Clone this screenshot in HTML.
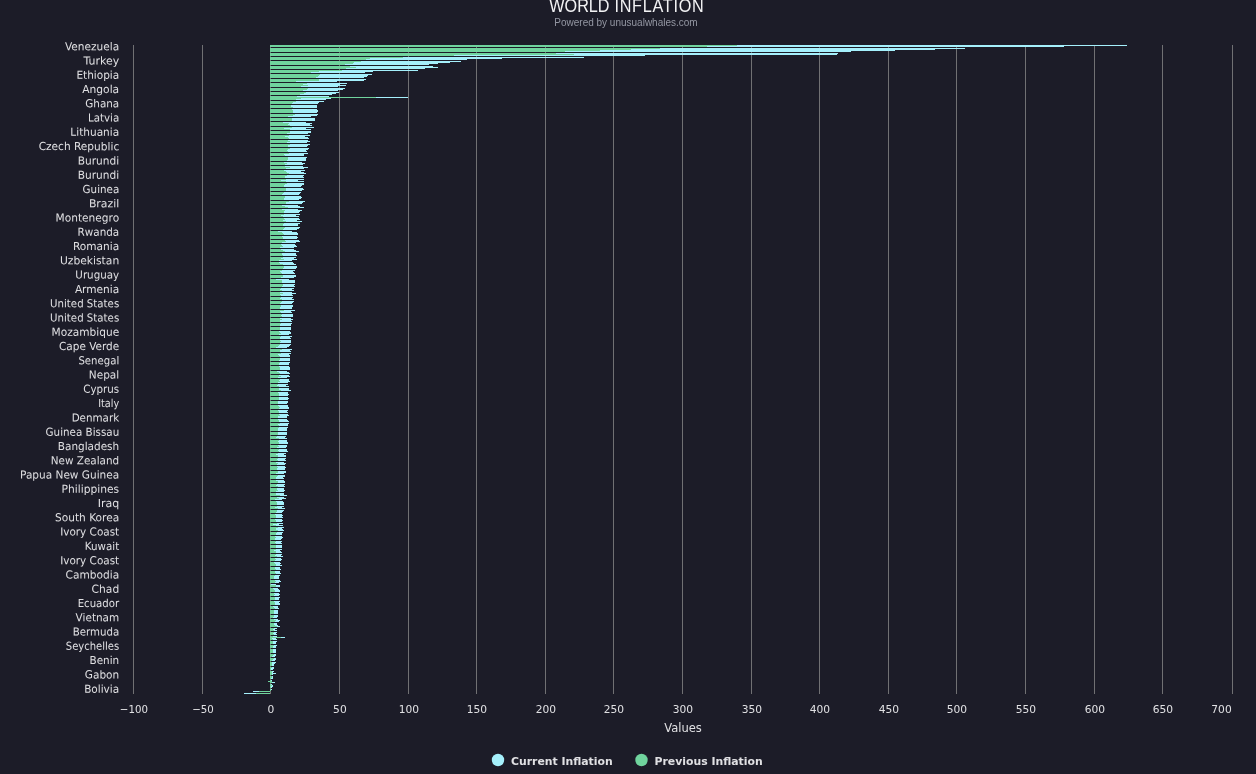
<!DOCTYPE html>
<html><head><meta charset="utf-8"><title>World Inflation</title>
<style>
html,body{margin:0;padding:0;background:#1c1c28;overflow:hidden}
svg{display:block;will-change:transform}
.lab text{font-family:"DejaVu Sans","Liberation Sans",sans-serif;font-size:11px;fill:#e0e0e3}
.ttl{font-family:"Liberation Sans",sans-serif;font-size:18px;fill:#f2f2f4}
.sub{font-family:"Liberation Sans",sans-serif;font-size:10px;fill:#9497a3}
.leg{font-family:"DejaVu Sans","Liberation Sans",sans-serif;font-size:11px;font-weight:bold;fill:#e0e0e3}
.axt{font-family:"DejaVu Sans","Liberation Sans",sans-serif;font-size:11.5px;fill:#e0e0e3}
</style></head><body>
<svg width="1256" height="774" viewBox="0 0 1256 774">
<rect width="1256" height="774" fill="#1c1c28"/>
<text class="ttl" transform="translate(549.3,12) scale(0.9,1)">WORLD <tspan dx="0.45" letter-spacing="0.82">INFLATION</tspan></text>
<text class="sub" x="626" y="25.5" text-anchor="middle">Powered by unusualwhales.com</text>
<g><path d="M133.5 45V694" stroke="#707073" stroke-width="1"/>
<path d="M202.5 45V694" stroke="#707073" stroke-width="1"/>
<path d="M270.5 45V694" stroke="#707073" stroke-width="1"/>
<path d="M339.5 45V694" stroke="#707073" stroke-width="1"/>
<path d="M408.5 45V694" stroke="#707073" stroke-width="1"/>
<path d="M476.5 45V694" stroke="#707073" stroke-width="1"/>
<path d="M545.5 45V694" stroke="#707073" stroke-width="1"/>
<path d="M613.5 45V694" stroke="#707073" stroke-width="1"/>
<path d="M682.5 45V694" stroke="#707073" stroke-width="1"/>
<path d="M751.5 45V694" stroke="#707073" stroke-width="1"/>
<path d="M819.5 45V694" stroke="#707073" stroke-width="1"/>
<path d="M888.5 45V694" stroke="#707073" stroke-width="1"/>
<path d="M956.5 45V694" stroke="#707073" stroke-width="1"/>
<path d="M1025.5 45V694" stroke="#707073" stroke-width="1"/>
<path d="M1094.5 45V694" stroke="#707073" stroke-width="1"/>
<path d="M1162.5 45V694" stroke="#707073" stroke-width="1"/>
<path d="M1232.5 45V694" stroke="#707073" stroke-width="1"/></g>
<g shape-rendering="crispEdges">
<rect x="270.0" y="45" width="857.0" height="1" fill="#a5f0fc"/>
<rect x="270.0" y="45" width="467.0" height="1" fill="#70d49e"/>
<rect x="270.0" y="46" width="794.0" height="1" fill="#a5f0fc"/>
<rect x="270.0" y="46" width="437.0" height="1" fill="#70d49e"/>
<rect x="270.0" y="48" width="695.0" height="1" fill="#a5f0fc"/>
<rect x="270.0" y="48" width="390.0" height="1" fill="#70d49e"/>
<rect x="270.0" y="49" width="665.0" height="1" fill="#a5f0fc"/>
<rect x="270.0" y="49" width="361.0" height="1" fill="#70d49e"/>
<rect x="270.0" y="50" width="625.0" height="1" fill="#a5f0fc"/>
<rect x="270.0" y="50" width="330.0" height="1" fill="#70d49e"/>
<rect x="270.0" y="51" width="581.0" height="1" fill="#a5f0fc"/>
<rect x="270.0" y="51" width="295.0" height="1" fill="#70d49e"/>
<rect x="270.0" y="53" width="568.0" height="1" fill="#a5f0fc"/>
<rect x="270.0" y="53" width="286.0" height="1" fill="#70d49e"/>
<rect x="270.0" y="54" width="567.0" height="1" fill="#a5f0fc"/>
<rect x="270.0" y="54" width="304.0" height="1" fill="#70d49e"/>
<rect x="270.0" y="55" width="375.0" height="1" fill="#a5f0fc"/>
<rect x="270.0" y="55" width="184.0" height="1" fill="#70d49e"/>
<rect x="270.0" y="57" width="314.0" height="1" fill="#a5f0fc"/>
<rect x="270.0" y="57" width="133.0" height="1" fill="#70d49e"/>
<rect x="270.0" y="58" width="232.0" height="1" fill="#a5f0fc"/>
<rect x="270.0" y="58" width="100.0" height="1" fill="#70d49e"/>
<rect x="270.0" y="59" width="197.0" height="1" fill="#a5f0fc"/>
<rect x="270.0" y="59" width="96.0" height="1" fill="#70d49e"/>
<rect x="270.0" y="61" width="191.0" height="1" fill="#a5f0fc"/>
<rect x="270.0" y="61" width="91.0" height="1" fill="#70d49e"/>
<rect x="270.0" y="62" width="180.0" height="1" fill="#a5f0fc"/>
<rect x="270.0" y="62" width="84.0" height="1" fill="#70d49e"/>
<rect x="270.0" y="63" width="168.0" height="1" fill="#a5f0fc"/>
<rect x="270.0" y="63" width="83.0" height="1" fill="#70d49e"/>
<rect x="270.0" y="64" width="159.0" height="1" fill="#a5f0fc"/>
<rect x="270.0" y="64" width="75.0" height="1" fill="#70d49e"/>
<rect x="270.0" y="66" width="163.0" height="1" fill="#a5f0fc"/>
<rect x="270.0" y="66" width="80.0" height="1" fill="#70d49e"/>
<rect x="270.0" y="67" width="168.0" height="1" fill="#a5f0fc"/>
<rect x="270.0" y="67" width="86.0" height="1" fill="#70d49e"/>
<rect x="270.0" y="68" width="155.0" height="1" fill="#a5f0fc"/>
<rect x="270.0" y="68" width="76.0" height="1" fill="#70d49e"/>
<rect x="270.0" y="70" width="148.0" height="1" fill="#a5f0fc"/>
<rect x="270.0" y="70" width="72.0" height="1" fill="#70d49e"/>
<rect x="270.0" y="71" width="103.0" height="1" fill="#a5f0fc"/>
<rect x="270.0" y="71" width="49.0" height="1" fill="#70d49e"/>
<rect x="270.0" y="72" width="95.0" height="1" fill="#a5f0fc"/>
<rect x="270.0" y="72" width="41.0" height="1" fill="#70d49e"/>
<rect x="270.0" y="74" width="102.0" height="1" fill="#a5f0fc"/>
<rect x="270.0" y="74" width="50.0" height="1" fill="#70d49e"/>
<rect x="270.0" y="75" width="98.0" height="1" fill="#a5f0fc"/>
<rect x="270.0" y="75" width="49.0" height="1" fill="#70d49e"/>
<rect x="270.0" y="76" width="97.0" height="1" fill="#a5f0fc"/>
<rect x="270.0" y="76" width="48.0" height="1" fill="#70d49e"/>
<rect x="270.0" y="77" width="94.0" height="1" fill="#a5f0fc"/>
<rect x="270.0" y="77" width="46.0" height="1" fill="#70d49e"/>
<rect x="270.0" y="79" width="96.0" height="1" fill="#a5f0fc"/>
<rect x="270.0" y="79" width="49.0" height="1" fill="#70d49e"/>
<rect x="270.0" y="80" width="94.0" height="1" fill="#a5f0fc"/>
<rect x="270.0" y="80" width="49.0" height="1" fill="#70d49e"/>
<rect x="270.0" y="81" width="67.0" height="1" fill="#a5f0fc"/>
<rect x="270.0" y="81" width="26.0" height="1" fill="#70d49e"/>
<rect x="270.0" y="83" width="77.0" height="1" fill="#a5f0fc"/>
<rect x="270.0" y="83" width="37.0" height="1" fill="#70d49e"/>
<rect x="270.0" y="84" width="70.0" height="1" fill="#a5f0fc"/>
<rect x="270.0" y="84" width="33.0" height="1" fill="#70d49e"/>
<rect x="270.0" y="85" width="76.0" height="1" fill="#a5f0fc"/>
<rect x="270.0" y="85" width="38.0" height="1" fill="#70d49e"/>
<rect x="270.0" y="86" width="68.0" height="1" fill="#a5f0fc"/>
<rect x="270.0" y="86" width="31.0" height="1" fill="#70d49e"/>
<rect x="270.0" y="88" width="75.0" height="1" fill="#a5f0fc"/>
<rect x="270.0" y="88" width="38.0" height="1" fill="#70d49e"/>
<rect x="270.0" y="89" width="73.0" height="1" fill="#a5f0fc"/>
<rect x="270.0" y="89" width="37.0" height="1" fill="#70d49e"/>
<rect x="270.0" y="90" width="68.0" height="1" fill="#a5f0fc"/>
<rect x="270.0" y="90" width="33.0" height="1" fill="#70d49e"/>
<rect x="270.0" y="92" width="69.0" height="1" fill="#a5f0fc"/>
<rect x="270.0" y="92" width="36.0" height="1" fill="#70d49e"/>
<rect x="270.0" y="93" width="66.0" height="1" fill="#a5f0fc"/>
<rect x="270.0" y="93" width="34.0" height="1" fill="#70d49e"/>
<rect x="270.0" y="94" width="62.0" height="1" fill="#a5f0fc"/>
<rect x="270.0" y="94" width="30.0" height="1" fill="#70d49e"/>
<rect x="270.0" y="96" width="59.0" height="1" fill="#a5f0fc"/>
<rect x="270.0" y="96" width="27.0" height="1" fill="#70d49e"/>
<rect x="270.0" y="97" width="138.0" height="1" fill="#a5f0fc"/>
<rect x="270.0" y="97" width="106.0" height="1" fill="#70d49e"/>
<rect x="270.0" y="98" width="61.0" height="1" fill="#a5f0fc"/>
<rect x="270.0" y="98" width="31.0" height="1" fill="#70d49e"/>
<rect x="270.0" y="99" width="56.0" height="1" fill="#a5f0fc"/>
<rect x="270.0" y="99" width="26.0" height="1" fill="#70d49e"/>
<rect x="270.0" y="101" width="54.0" height="1" fill="#a5f0fc"/>
<rect x="270.0" y="101" width="26.0" height="1" fill="#70d49e"/>
<rect x="270.0" y="102" width="49.0" height="1" fill="#a5f0fc"/>
<rect x="270.0" y="102" width="23.0" height="1" fill="#70d49e"/>
<rect x="270.0" y="103" width="48.0" height="1" fill="#a5f0fc"/>
<rect x="270.0" y="103" width="22.0" height="1" fill="#70d49e"/>
<rect x="270.0" y="105" width="47.0" height="1" fill="#a5f0fc"/>
<rect x="270.0" y="105" width="21.0" height="1" fill="#70d49e"/>
<rect x="270.0" y="106" width="47.0" height="1" fill="#a5f0fc"/>
<rect x="270.0" y="106" width="21.0" height="1" fill="#70d49e"/>
<rect x="270.0" y="107" width="47.0" height="1" fill="#a5f0fc"/>
<rect x="270.0" y="107" width="23.0" height="1" fill="#70d49e"/>
<rect x="270.0" y="109" width="47.0" height="1" fill="#a5f0fc"/>
<rect x="270.0" y="109" width="22.0" height="1" fill="#70d49e"/>
<rect x="270.0" y="110" width="48.0" height="1" fill="#a5f0fc"/>
<rect x="270.0" y="110" width="23.0" height="1" fill="#70d49e"/>
<rect x="270.0" y="111" width="48.0" height="1" fill="#a5f0fc"/>
<rect x="270.0" y="111" width="23.0" height="1" fill="#70d49e"/>
<rect x="270.0" y="112" width="47.0" height="1" fill="#a5f0fc"/>
<rect x="270.0" y="112" width="23.0" height="1" fill="#70d49e"/>
<rect x="270.0" y="114" width="48.0" height="1" fill="#a5f0fc"/>
<rect x="270.0" y="114" width="25.0" height="1" fill="#70d49e"/>
<rect x="270.0" y="115" width="47.0" height="1" fill="#a5f0fc"/>
<rect x="270.0" y="115" width="23.0" height="1" fill="#70d49e"/>
<rect x="270.0" y="116" width="41.0" height="1" fill="#a5f0fc"/>
<rect x="270.0" y="116" width="18.0" height="1" fill="#70d49e"/>
<rect x="270.0" y="118" width="45.0" height="1" fill="#a5f0fc"/>
<rect x="270.0" y="118" width="22.0" height="1" fill="#70d49e"/>
<rect x="270.0" y="119" width="45.0" height="1" fill="#a5f0fc"/>
<rect x="270.0" y="119" width="22.0" height="1" fill="#70d49e"/>
<rect x="270.0" y="120" width="45.0" height="1" fill="#a5f0fc"/>
<rect x="270.0" y="120" width="22.0" height="1" fill="#70d49e"/>
<rect x="270.0" y="122" width="36.0" height="1" fill="#a5f0fc"/>
<rect x="270.0" y="122" width="13.0" height="1" fill="#70d49e"/>
<rect x="270.0" y="123" width="42.0" height="1" fill="#a5f0fc"/>
<rect x="270.0" y="123" width="19.0" height="1" fill="#70d49e"/>
<rect x="270.0" y="124" width="40.0" height="1" fill="#a5f0fc"/>
<rect x="270.0" y="124" width="18.0" height="1" fill="#70d49e"/>
<rect x="270.0" y="125" width="42.0" height="1" fill="#a5f0fc"/>
<rect x="270.0" y="125" width="20.0" height="1" fill="#70d49e"/>
<rect x="270.0" y="127" width="44.0" height="1" fill="#a5f0fc"/>
<rect x="270.0" y="127" width="22.0" height="1" fill="#70d49e"/>
<rect x="270.0" y="128" width="36.0" height="1" fill="#a5f0fc"/>
<rect x="270.0" y="128" width="14.0" height="1" fill="#70d49e"/>
<rect x="270.0" y="129" width="41.0" height="1" fill="#a5f0fc"/>
<rect x="270.0" y="129" width="20.0" height="1" fill="#70d49e"/>
<rect x="270.0" y="131" width="41.0" height="1" fill="#a5f0fc"/>
<rect x="270.0" y="131" width="20.0" height="1" fill="#70d49e"/>
<rect x="270.0" y="132" width="41.0" height="1" fill="#a5f0fc"/>
<rect x="270.0" y="132" width="20.0" height="1" fill="#70d49e"/>
<rect x="270.0" y="133" width="38.0" height="1" fill="#a5f0fc"/>
<rect x="270.0" y="133" width="17.0" height="1" fill="#70d49e"/>
<rect x="270.0" y="135" width="40.0" height="1" fill="#a5f0fc"/>
<rect x="270.0" y="135" width="19.0" height="1" fill="#70d49e"/>
<rect x="270.0" y="136" width="35.0" height="1" fill="#a5f0fc"/>
<rect x="270.0" y="136" width="15.0" height="1" fill="#70d49e"/>
<rect x="270.0" y="137" width="38.0" height="1" fill="#a5f0fc"/>
<rect x="270.0" y="137" width="18.0" height="1" fill="#70d49e"/>
<rect x="270.0" y="138" width="39.0" height="1" fill="#a5f0fc"/>
<rect x="270.0" y="138" width="19.0" height="1" fill="#70d49e"/>
<rect x="270.0" y="140" width="38.0" height="1" fill="#a5f0fc"/>
<rect x="270.0" y="140" width="18.0" height="1" fill="#70d49e"/>
<rect x="270.0" y="141" width="40.0" height="1" fill="#a5f0fc"/>
<rect x="270.0" y="141" width="20.0" height="1" fill="#70d49e"/>
<rect x="270.0" y="142" width="37.0" height="1" fill="#a5f0fc"/>
<rect x="270.0" y="142" width="17.0" height="1" fill="#70d49e"/>
<rect x="270.0" y="144" width="40.0" height="1" fill="#a5f0fc"/>
<rect x="270.0" y="144" width="20.0" height="1" fill="#70d49e"/>
<rect x="270.0" y="145" width="38.0" height="1" fill="#a5f0fc"/>
<rect x="270.0" y="145" width="18.0" height="1" fill="#70d49e"/>
<rect x="270.0" y="146" width="37.0" height="1" fill="#a5f0fc"/>
<rect x="270.0" y="146" width="18.0" height="1" fill="#70d49e"/>
<rect x="270.0" y="148" width="39.0" height="1" fill="#a5f0fc"/>
<rect x="270.0" y="148" width="20.0" height="1" fill="#70d49e"/>
<rect x="270.0" y="149" width="38.0" height="1" fill="#a5f0fc"/>
<rect x="270.0" y="149" width="18.0" height="1" fill="#70d49e"/>
<rect x="270.0" y="150" width="36.0" height="1" fill="#a5f0fc"/>
<rect x="270.0" y="150" width="17.0" height="1" fill="#70d49e"/>
<rect x="270.0" y="151" width="37.0" height="1" fill="#a5f0fc"/>
<rect x="270.0" y="151" width="18.0" height="1" fill="#70d49e"/>
<rect x="270.0" y="153" width="38.0" height="1" fill="#a5f0fc"/>
<rect x="270.0" y="153" width="19.0" height="1" fill="#70d49e"/>
<rect x="270.0" y="154" width="34.0" height="1" fill="#a5f0fc"/>
<rect x="270.0" y="154" width="14.0" height="1" fill="#70d49e"/>
<rect x="270.0" y="155" width="34.0" height="1" fill="#a5f0fc"/>
<rect x="270.0" y="155" width="15.0" height="1" fill="#70d49e"/>
<rect x="270.0" y="157" width="37.0" height="1" fill="#a5f0fc"/>
<rect x="270.0" y="157" width="18.0" height="1" fill="#70d49e"/>
<rect x="270.0" y="158" width="36.0" height="1" fill="#a5f0fc"/>
<rect x="270.0" y="158" width="18.0" height="1" fill="#70d49e"/>
<rect x="270.0" y="159" width="36.0" height="1" fill="#a5f0fc"/>
<rect x="270.0" y="159" width="18.0" height="1" fill="#70d49e"/>
<rect x="270.0" y="160" width="36.0" height="1" fill="#a5f0fc"/>
<rect x="270.0" y="160" width="17.0" height="1" fill="#70d49e"/>
<rect x="270.0" y="162" width="32.0" height="1" fill="#a5f0fc"/>
<rect x="270.0" y="162" width="14.0" height="1" fill="#70d49e"/>
<rect x="270.0" y="163" width="35.0" height="1" fill="#a5f0fc"/>
<rect x="270.0" y="163" width="17.0" height="1" fill="#70d49e"/>
<rect x="270.0" y="164" width="33.0" height="1" fill="#a5f0fc"/>
<rect x="270.0" y="164" width="15.0" height="1" fill="#70d49e"/>
<rect x="270.0" y="166" width="33.0" height="1" fill="#a5f0fc"/>
<rect x="270.0" y="166" width="15.0" height="1" fill="#70d49e"/>
<rect x="270.0" y="167" width="38.0" height="1" fill="#a5f0fc"/>
<rect x="270.0" y="167" width="20.0" height="1" fill="#70d49e"/>
<rect x="270.0" y="168" width="34.0" height="1" fill="#a5f0fc"/>
<rect x="270.0" y="168" width="16.0" height="1" fill="#70d49e"/>
<rect x="270.0" y="170" width="35.0" height="1" fill="#a5f0fc"/>
<rect x="270.0" y="170" width="14.0" height="1" fill="#70d49e"/>
<rect x="270.0" y="171" width="31.0" height="1" fill="#a5f0fc"/>
<rect x="270.0" y="171" width="16.0" height="1" fill="#70d49e"/>
<rect x="270.0" y="172" width="34.0" height="1" fill="#a5f0fc"/>
<rect x="270.0" y="172" width="17.0" height="1" fill="#70d49e"/>
<rect x="270.0" y="173" width="36.0" height="1" fill="#a5f0fc"/>
<rect x="270.0" y="173" width="19.0" height="1" fill="#70d49e"/>
<rect x="270.0" y="175" width="34.0" height="1" fill="#a5f0fc"/>
<rect x="270.0" y="175" width="17.0" height="1" fill="#70d49e"/>
<rect x="270.0" y="176" width="33.0" height="1" fill="#a5f0fc"/>
<rect x="270.0" y="176" width="15.0" height="1" fill="#70d49e"/>
<rect x="270.0" y="177" width="34.0" height="1" fill="#a5f0fc"/>
<rect x="270.0" y="177" width="15.0" height="1" fill="#70d49e"/>
<rect x="270.0" y="179" width="34.0" height="1" fill="#a5f0fc"/>
<rect x="270.0" y="179" width="16.0" height="1" fill="#70d49e"/>
<rect x="270.0" y="180" width="28.0" height="1" fill="#a5f0fc"/>
<rect x="270.0" y="180" width="11.0" height="1" fill="#70d49e"/>
<rect x="270.0" y="181" width="34.0" height="1" fill="#a5f0fc"/>
<rect x="270.0" y="181" width="16.0" height="1" fill="#70d49e"/>
<rect x="270.0" y="183" width="34.0" height="1" fill="#a5f0fc"/>
<rect x="270.0" y="183" width="17.0" height="1" fill="#70d49e"/>
<rect x="270.0" y="184" width="34.0" height="1" fill="#a5f0fc"/>
<rect x="270.0" y="184" width="15.0" height="1" fill="#70d49e"/>
<rect x="270.0" y="185" width="32.0" height="1" fill="#a5f0fc"/>
<rect x="270.0" y="185" width="14.0" height="1" fill="#70d49e"/>
<rect x="270.0" y="186" width="31.0" height="1" fill="#a5f0fc"/>
<rect x="270.0" y="186" width="14.0" height="1" fill="#70d49e"/>
<rect x="270.0" y="188" width="33.0" height="1" fill="#a5f0fc"/>
<rect x="270.0" y="188" width="16.0" height="1" fill="#70d49e"/>
<rect x="270.0" y="189" width="34.0" height="1" fill="#a5f0fc"/>
<rect x="270.0" y="189" width="16.0" height="1" fill="#70d49e"/>
<rect x="270.0" y="190" width="32.0" height="1" fill="#a5f0fc"/>
<rect x="270.0" y="190" width="16.0" height="1" fill="#70d49e"/>
<rect x="270.0" y="192" width="31.0" height="1" fill="#a5f0fc"/>
<rect x="270.0" y="192" width="14.0" height="1" fill="#70d49e"/>
<rect x="270.0" y="193" width="30.0" height="1" fill="#a5f0fc"/>
<rect x="270.0" y="193" width="13.0" height="1" fill="#70d49e"/>
<rect x="270.0" y="194" width="29.0" height="1" fill="#a5f0fc"/>
<rect x="270.0" y="194" width="12.0" height="1" fill="#70d49e"/>
<rect x="270.0" y="196" width="31.0" height="1" fill="#a5f0fc"/>
<rect x="270.0" y="196" width="15.0" height="1" fill="#70d49e"/>
<rect x="270.0" y="197" width="32.0" height="1" fill="#a5f0fc"/>
<rect x="270.0" y="197" width="15.0" height="1" fill="#70d49e"/>
<rect x="270.0" y="198" width="31.0" height="1" fill="#a5f0fc"/>
<rect x="270.0" y="198" width="14.0" height="1" fill="#70d49e"/>
<rect x="270.0" y="199" width="29.0" height="1" fill="#a5f0fc"/>
<rect x="270.0" y="199" width="14.0" height="1" fill="#70d49e"/>
<rect x="270.0" y="201" width="35.0" height="1" fill="#a5f0fc"/>
<rect x="270.0" y="201" width="19.0" height="1" fill="#70d49e"/>
<rect x="270.0" y="202" width="33.0" height="1" fill="#a5f0fc"/>
<rect x="270.0" y="202" width="16.0" height="1" fill="#70d49e"/>
<rect x="270.0" y="203" width="32.0" height="1" fill="#a5f0fc"/>
<rect x="270.0" y="203" width="16.0" height="1" fill="#70d49e"/>
<rect x="270.0" y="205" width="28.0" height="1" fill="#a5f0fc"/>
<rect x="270.0" y="205" width="12.0" height="1" fill="#70d49e"/>
<rect x="270.0" y="206" width="30.0" height="1" fill="#a5f0fc"/>
<rect x="270.0" y="206" width="15.0" height="1" fill="#70d49e"/>
<rect x="270.0" y="207" width="34.0" height="1" fill="#a5f0fc"/>
<rect x="270.0" y="207" width="18.0" height="1" fill="#70d49e"/>
<rect x="270.0" y="209" width="28.0" height="1" fill="#a5f0fc"/>
<rect x="270.0" y="209" width="12.0" height="1" fill="#70d49e"/>
<rect x="270.0" y="210" width="32.0" height="1" fill="#a5f0fc"/>
<rect x="270.0" y="210" width="15.0" height="1" fill="#70d49e"/>
<rect x="270.0" y="211" width="30.0" height="1" fill="#a5f0fc"/>
<rect x="270.0" y="211" width="14.0" height="1" fill="#70d49e"/>
<rect x="270.0" y="212" width="29.0" height="1" fill="#a5f0fc"/>
<rect x="270.0" y="212" width="14.0" height="1" fill="#70d49e"/>
<rect x="270.0" y="214" width="30.0" height="1" fill="#a5f0fc"/>
<rect x="270.0" y="214" width="14.0" height="1" fill="#70d49e"/>
<rect x="270.0" y="215" width="26.0" height="1" fill="#a5f0fc"/>
<rect x="270.0" y="215" width="11.0" height="1" fill="#70d49e"/>
<rect x="270.0" y="216" width="29.0" height="1" fill="#a5f0fc"/>
<rect x="270.0" y="216" width="13.0" height="1" fill="#70d49e"/>
<rect x="270.0" y="218" width="29.0" height="1" fill="#a5f0fc"/>
<rect x="270.0" y="218" width="14.0" height="1" fill="#70d49e"/>
<rect x="270.0" y="219" width="30.0" height="1" fill="#a5f0fc"/>
<rect x="270.0" y="219" width="15.0" height="1" fill="#70d49e"/>
<rect x="270.0" y="220" width="27.0" height="1" fill="#a5f0fc"/>
<rect x="270.0" y="220" width="13.0" height="1" fill="#70d49e"/>
<rect x="270.0" y="221" width="32.0" height="1" fill="#a5f0fc"/>
<rect x="270.0" y="221" width="16.0" height="1" fill="#70d49e"/>
<rect x="270.0" y="223" width="30.0" height="1" fill="#a5f0fc"/>
<rect x="270.0" y="223" width="14.0" height="1" fill="#70d49e"/>
<rect x="270.0" y="224" width="28.0" height="1" fill="#a5f0fc"/>
<rect x="270.0" y="224" width="13.0" height="1" fill="#70d49e"/>
<rect x="270.0" y="225" width="28.0" height="1" fill="#a5f0fc"/>
<rect x="270.0" y="225" width="13.0" height="1" fill="#70d49e"/>
<rect x="270.0" y="227" width="30.0" height="1" fill="#a5f0fc"/>
<rect x="270.0" y="227" width="15.0" height="1" fill="#70d49e"/>
<rect x="270.0" y="228" width="29.0" height="1" fill="#a5f0fc"/>
<rect x="270.0" y="228" width="14.0" height="1" fill="#70d49e"/>
<rect x="270.0" y="229" width="27.0" height="1" fill="#a5f0fc"/>
<rect x="270.0" y="229" width="13.0" height="1" fill="#70d49e"/>
<rect x="270.0" y="231" width="22.0" height="1" fill="#a5f0fc"/>
<rect x="270.0" y="231" width="8.0" height="1" fill="#70d49e"/>
<rect x="270.0" y="232" width="27.0" height="1" fill="#a5f0fc"/>
<rect x="270.0" y="232" width="12.0" height="1" fill="#70d49e"/>
<rect x="270.0" y="233" width="28.0" height="1" fill="#a5f0fc"/>
<rect x="270.0" y="233" width="13.0" height="1" fill="#70d49e"/>
<rect x="270.0" y="234" width="28.0" height="1" fill="#a5f0fc"/>
<rect x="270.0" y="234" width="14.0" height="1" fill="#70d49e"/>
<rect x="270.0" y="236" width="27.0" height="1" fill="#a5f0fc"/>
<rect x="270.0" y="236" width="12.0" height="1" fill="#70d49e"/>
<rect x="270.0" y="237" width="28.0" height="1" fill="#a5f0fc"/>
<rect x="270.0" y="237" width="13.0" height="1" fill="#70d49e"/>
<rect x="270.0" y="238" width="27.0" height="1" fill="#a5f0fc"/>
<rect x="270.0" y="238" width="13.0" height="1" fill="#70d49e"/>
<rect x="270.0" y="240" width="29.0" height="1" fill="#a5f0fc"/>
<rect x="270.0" y="240" width="15.0" height="1" fill="#70d49e"/>
<rect x="270.0" y="241" width="30.0" height="1" fill="#a5f0fc"/>
<rect x="270.0" y="241" width="16.0" height="1" fill="#70d49e"/>
<rect x="270.0" y="242" width="26.0" height="1" fill="#a5f0fc"/>
<rect x="270.0" y="242" width="12.0" height="1" fill="#70d49e"/>
<rect x="270.0" y="244" width="25.0" height="1" fill="#a5f0fc"/>
<rect x="270.0" y="244" width="11.0" height="1" fill="#70d49e"/>
<rect x="270.0" y="245" width="26.0" height="1" fill="#a5f0fc"/>
<rect x="270.0" y="245" width="12.0" height="1" fill="#70d49e"/>
<rect x="270.0" y="246" width="27.0" height="1" fill="#a5f0fc"/>
<rect x="270.0" y="246" width="13.0" height="1" fill="#70d49e"/>
<rect x="270.0" y="247" width="24.0" height="1" fill="#a5f0fc"/>
<rect x="270.0" y="247" width="10.0" height="1" fill="#70d49e"/>
<rect x="270.0" y="249" width="24.0" height="1" fill="#a5f0fc"/>
<rect x="270.0" y="249" width="11.0" height="1" fill="#70d49e"/>
<rect x="270.0" y="250" width="26.0" height="1" fill="#a5f0fc"/>
<rect x="270.0" y="250" width="13.0" height="1" fill="#70d49e"/>
<rect x="270.0" y="251" width="29.0" height="1" fill="#a5f0fc"/>
<rect x="270.0" y="251" width="15.0" height="1" fill="#70d49e"/>
<rect x="270.0" y="253" width="26.0" height="1" fill="#a5f0fc"/>
<rect x="270.0" y="253" width="12.0" height="1" fill="#70d49e"/>
<rect x="270.0" y="254" width="26.0" height="1" fill="#a5f0fc"/>
<rect x="270.0" y="254" width="12.0" height="1" fill="#70d49e"/>
<rect x="270.0" y="255" width="27.0" height="1" fill="#a5f0fc"/>
<rect x="270.0" y="255" width="13.0" height="1" fill="#70d49e"/>
<rect x="270.0" y="257" width="26.0" height="1" fill="#a5f0fc"/>
<rect x="270.0" y="257" width="13.0" height="1" fill="#70d49e"/>
<rect x="270.0" y="258" width="24.0" height="1" fill="#a5f0fc"/>
<rect x="270.0" y="258" width="11.0" height="1" fill="#70d49e"/>
<rect x="270.0" y="259" width="27.0" height="1" fill="#a5f0fc"/>
<rect x="270.0" y="259" width="14.0" height="1" fill="#70d49e"/>
<rect x="270.0" y="260" width="22.0" height="1" fill="#a5f0fc"/>
<rect x="270.0" y="260" width="9.0" height="1" fill="#70d49e"/>
<rect x="270.0" y="262" width="23.0" height="1" fill="#a5f0fc"/>
<rect x="270.0" y="262" width="9.0" height="1" fill="#70d49e"/>
<rect x="270.0" y="263" width="24.0" height="1" fill="#a5f0fc"/>
<rect x="270.0" y="263" width="10.0" height="1" fill="#70d49e"/>
<rect x="270.0" y="264" width="26.0" height="1" fill="#a5f0fc"/>
<rect x="270.0" y="264" width="13.0" height="1" fill="#70d49e"/>
<rect x="270.0" y="266" width="27.0" height="1" fill="#a5f0fc"/>
<rect x="270.0" y="266" width="14.0" height="1" fill="#70d49e"/>
<rect x="270.0" y="267" width="27.0" height="1" fill="#a5f0fc"/>
<rect x="270.0" y="267" width="14.0" height="1" fill="#70d49e"/>
<rect x="270.0" y="268" width="26.0" height="1" fill="#a5f0fc"/>
<rect x="270.0" y="268" width="13.0" height="1" fill="#70d49e"/>
<rect x="270.0" y="270" width="25.0" height="1" fill="#a5f0fc"/>
<rect x="270.0" y="270" width="12.0" height="1" fill="#70d49e"/>
<rect x="270.0" y="271" width="23.0" height="1" fill="#a5f0fc"/>
<rect x="270.0" y="271" width="10.0" height="1" fill="#70d49e"/>
<rect x="270.0" y="272" width="24.0" height="1" fill="#a5f0fc"/>
<rect x="270.0" y="272" width="11.0" height="1" fill="#70d49e"/>
<rect x="270.0" y="273" width="25.0" height="1" fill="#a5f0fc"/>
<rect x="270.0" y="273" width="12.0" height="1" fill="#70d49e"/>
<rect x="270.0" y="275" width="26.0" height="1" fill="#a5f0fc"/>
<rect x="270.0" y="275" width="13.0" height="1" fill="#70d49e"/>
<rect x="270.0" y="276" width="26.0" height="1" fill="#a5f0fc"/>
<rect x="270.0" y="276" width="13.0" height="1" fill="#70d49e"/>
<rect x="270.0" y="277" width="24.0" height="1" fill="#a5f0fc"/>
<rect x="270.0" y="277" width="11.0" height="1" fill="#70d49e"/>
<rect x="270.0" y="279" width="19.0" height="1" fill="#a5f0fc"/>
<rect x="270.0" y="279" width="6.0" height="1" fill="#70d49e"/>
<rect x="270.0" y="280" width="25.0" height="1" fill="#a5f0fc"/>
<rect x="270.0" y="280" width="12.0" height="1" fill="#70d49e"/>
<rect x="270.0" y="281" width="25.0" height="1" fill="#a5f0fc"/>
<rect x="270.0" y="281" width="12.0" height="1" fill="#70d49e"/>
<rect x="270.0" y="282" width="25.0" height="1" fill="#a5f0fc"/>
<rect x="270.0" y="282" width="12.0" height="1" fill="#70d49e"/>
<rect x="270.0" y="284" width="25.0" height="1" fill="#a5f0fc"/>
<rect x="270.0" y="284" width="13.0" height="1" fill="#70d49e"/>
<rect x="270.0" y="285" width="24.0" height="1" fill="#a5f0fc"/>
<rect x="270.0" y="285" width="13.0" height="1" fill="#70d49e"/>
<rect x="270.0" y="286" width="25.0" height="1" fill="#a5f0fc"/>
<rect x="270.0" y="286" width="12.0" height="1" fill="#70d49e"/>
<rect x="270.0" y="288" width="24.0" height="1" fill="#a5f0fc"/>
<rect x="270.0" y="288" width="11.0" height="1" fill="#70d49e"/>
<rect x="270.0" y="289" width="22.0" height="1" fill="#a5f0fc"/>
<rect x="270.0" y="289" width="10.0" height="1" fill="#70d49e"/>
<rect x="270.0" y="290" width="24.0" height="1" fill="#a5f0fc"/>
<rect x="270.0" y="290" width="12.0" height="1" fill="#70d49e"/>
<rect x="270.0" y="292" width="22.0" height="1" fill="#a5f0fc"/>
<rect x="270.0" y="292" width="10.0" height="1" fill="#70d49e"/>
<rect x="270.0" y="293" width="26.0" height="1" fill="#a5f0fc"/>
<rect x="270.0" y="293" width="13.0" height="1" fill="#70d49e"/>
<rect x="270.0" y="294" width="22.0" height="1" fill="#a5f0fc"/>
<rect x="270.0" y="294" width="10.0" height="1" fill="#70d49e"/>
<rect x="270.0" y="295" width="23.0" height="1" fill="#a5f0fc"/>
<rect x="270.0" y="295" width="11.0" height="1" fill="#70d49e"/>
<rect x="270.0" y="297" width="23.0" height="1" fill="#a5f0fc"/>
<rect x="270.0" y="297" width="11.0" height="1" fill="#70d49e"/>
<rect x="270.0" y="298" width="22.0" height="1" fill="#a5f0fc"/>
<rect x="270.0" y="298" width="10.0" height="1" fill="#70d49e"/>
<rect x="270.0" y="299" width="24.0" height="1" fill="#a5f0fc"/>
<rect x="270.0" y="299" width="12.0" height="1" fill="#70d49e"/>
<rect x="270.0" y="301" width="24.0" height="1" fill="#a5f0fc"/>
<rect x="270.0" y="301" width="12.0" height="1" fill="#70d49e"/>
<rect x="270.0" y="302" width="23.0" height="1" fill="#a5f0fc"/>
<rect x="270.0" y="302" width="11.0" height="1" fill="#70d49e"/>
<rect x="270.0" y="303" width="22.0" height="1" fill="#a5f0fc"/>
<rect x="270.0" y="303" width="10.0" height="1" fill="#70d49e"/>
<rect x="270.0" y="305" width="23.0" height="1" fill="#a5f0fc"/>
<rect x="270.0" y="305" width="11.0" height="1" fill="#70d49e"/>
<rect x="270.0" y="306" width="23.0" height="1" fill="#a5f0fc"/>
<rect x="270.0" y="306" width="11.0" height="1" fill="#70d49e"/>
<rect x="270.0" y="307" width="22.0" height="1" fill="#a5f0fc"/>
<rect x="270.0" y="307" width="10.0" height="1" fill="#70d49e"/>
<rect x="270.0" y="308" width="22.0" height="1" fill="#a5f0fc"/>
<rect x="270.0" y="308" width="10.0" height="1" fill="#70d49e"/>
<rect x="270.0" y="310" width="25.0" height="1" fill="#a5f0fc"/>
<rect x="270.0" y="310" width="14.0" height="1" fill="#70d49e"/>
<rect x="270.0" y="311" width="21.0" height="1" fill="#a5f0fc"/>
<rect x="270.0" y="311" width="10.0" height="1" fill="#70d49e"/>
<rect x="270.0" y="312" width="22.0" height="1" fill="#a5f0fc"/>
<rect x="270.0" y="312" width="11.0" height="1" fill="#70d49e"/>
<rect x="270.0" y="314" width="23.0" height="1" fill="#a5f0fc"/>
<rect x="270.0" y="314" width="12.0" height="1" fill="#70d49e"/>
<rect x="270.0" y="315" width="23.0" height="1" fill="#a5f0fc"/>
<rect x="270.0" y="315" width="11.0" height="1" fill="#70d49e"/>
<rect x="270.0" y="316" width="23.0" height="1" fill="#a5f0fc"/>
<rect x="270.0" y="316" width="12.0" height="1" fill="#70d49e"/>
<rect x="270.0" y="318" width="21.0" height="1" fill="#a5f0fc"/>
<rect x="270.0" y="318" width="10.0" height="1" fill="#70d49e"/>
<rect x="270.0" y="319" width="23.0" height="1" fill="#a5f0fc"/>
<rect x="270.0" y="319" width="12.0" height="1" fill="#70d49e"/>
<rect x="270.0" y="320" width="21.0" height="1" fill="#a5f0fc"/>
<rect x="270.0" y="320" width="10.0" height="1" fill="#70d49e"/>
<rect x="270.0" y="321" width="22.0" height="1" fill="#a5f0fc"/>
<rect x="270.0" y="321" width="10.0" height="1" fill="#70d49e"/>
<rect x="270.0" y="323" width="22.0" height="1" fill="#a5f0fc"/>
<rect x="270.0" y="323" width="11.0" height="1" fill="#70d49e"/>
<rect x="270.0" y="324" width="21.0" height="1" fill="#a5f0fc"/>
<rect x="270.0" y="324" width="10.0" height="1" fill="#70d49e"/>
<rect x="270.0" y="325" width="21.0" height="1" fill="#a5f0fc"/>
<rect x="270.0" y="325" width="10.0" height="1" fill="#70d49e"/>
<rect x="270.0" y="327" width="21.0" height="1" fill="#a5f0fc"/>
<rect x="270.0" y="327" width="10.0" height="1" fill="#70d49e"/>
<rect x="270.0" y="328" width="21.0" height="1" fill="#a5f0fc"/>
<rect x="270.0" y="328" width="10.0" height="1" fill="#70d49e"/>
<rect x="270.0" y="329" width="21.0" height="1" fill="#a5f0fc"/>
<rect x="270.0" y="329" width="10.0" height="1" fill="#70d49e"/>
<rect x="270.0" y="331" width="20.0" height="1" fill="#a5f0fc"/>
<rect x="270.0" y="331" width="9.0" height="1" fill="#70d49e"/>
<rect x="270.0" y="332" width="21.0" height="1" fill="#a5f0fc"/>
<rect x="270.0" y="332" width="10.0" height="1" fill="#70d49e"/>
<rect x="270.0" y="333" width="21.0" height="1" fill="#a5f0fc"/>
<rect x="270.0" y="333" width="11.0" height="1" fill="#70d49e"/>
<rect x="270.0" y="334" width="19.0" height="1" fill="#a5f0fc"/>
<rect x="270.0" y="334" width="9.0" height="1" fill="#70d49e"/>
<rect x="270.0" y="336" width="22.0" height="1" fill="#a5f0fc"/>
<rect x="270.0" y="336" width="11.0" height="1" fill="#70d49e"/>
<rect x="270.0" y="337" width="20.0" height="1" fill="#a5f0fc"/>
<rect x="270.0" y="337" width="10.0" height="1" fill="#70d49e"/>
<rect x="270.0" y="338" width="21.0" height="1" fill="#a5f0fc"/>
<rect x="270.0" y="338" width="10.0" height="1" fill="#70d49e"/>
<rect x="270.0" y="340" width="21.0" height="1" fill="#a5f0fc"/>
<rect x="270.0" y="340" width="10.0" height="1" fill="#70d49e"/>
<rect x="270.0" y="341" width="21.0" height="1" fill="#a5f0fc"/>
<rect x="270.0" y="341" width="11.0" height="1" fill="#70d49e"/>
<rect x="270.0" y="342" width="21.0" height="1" fill="#a5f0fc"/>
<rect x="270.0" y="342" width="10.0" height="1" fill="#70d49e"/>
<rect x="270.0" y="344" width="21.0" height="1" fill="#a5f0fc"/>
<rect x="270.0" y="344" width="10.0" height="1" fill="#70d49e"/>
<rect x="270.0" y="345" width="20.0" height="1" fill="#a5f0fc"/>
<rect x="270.0" y="345" width="9.0" height="1" fill="#70d49e"/>
<rect x="270.0" y="346" width="19.0" height="1" fill="#a5f0fc"/>
<rect x="270.0" y="346" width="8.0" height="1" fill="#70d49e"/>
<rect x="270.0" y="347" width="17.0" height="1" fill="#a5f0fc"/>
<rect x="270.0" y="347" width="6.0" height="1" fill="#70d49e"/>
<rect x="270.0" y="349" width="22.0" height="1" fill="#a5f0fc"/>
<rect x="270.0" y="349" width="12.0" height="1" fill="#70d49e"/>
<rect x="270.0" y="350" width="20.0" height="1" fill="#a5f0fc"/>
<rect x="270.0" y="350" width="10.0" height="1" fill="#70d49e"/>
<rect x="270.0" y="351" width="21.0" height="1" fill="#a5f0fc"/>
<rect x="270.0" y="351" width="10.0" height="1" fill="#70d49e"/>
<rect x="270.0" y="353" width="21.0" height="1" fill="#a5f0fc"/>
<rect x="270.0" y="353" width="11.0" height="1" fill="#70d49e"/>
<rect x="270.0" y="354" width="19.0" height="1" fill="#a5f0fc"/>
<rect x="270.0" y="354" width="8.0" height="1" fill="#70d49e"/>
<rect x="270.0" y="355" width="20.0" height="1" fill="#a5f0fc"/>
<rect x="270.0" y="355" width="9.0" height="1" fill="#70d49e"/>
<rect x="270.0" y="356" width="20.0" height="1" fill="#a5f0fc"/>
<rect x="270.0" y="356" width="10.0" height="1" fill="#70d49e"/>
<rect x="270.0" y="358" width="20.0" height="1" fill="#a5f0fc"/>
<rect x="270.0" y="358" width="10.0" height="1" fill="#70d49e"/>
<rect x="270.0" y="359" width="20.0" height="1" fill="#a5f0fc"/>
<rect x="270.0" y="359" width="10.0" height="1" fill="#70d49e"/>
<rect x="270.0" y="360" width="20.0" height="1" fill="#a5f0fc"/>
<rect x="270.0" y="360" width="9.0" height="1" fill="#70d49e"/>
<rect x="270.0" y="362" width="20.0" height="1" fill="#a5f0fc"/>
<rect x="270.0" y="362" width="10.0" height="1" fill="#70d49e"/>
<rect x="270.0" y="363" width="19.0" height="1" fill="#a5f0fc"/>
<rect x="270.0" y="363" width="9.0" height="1" fill="#70d49e"/>
<rect x="270.0" y="364" width="19.0" height="1" fill="#a5f0fc"/>
<rect x="270.0" y="364" width="9.0" height="1" fill="#70d49e"/>
<rect x="270.0" y="366" width="19.0" height="1" fill="#a5f0fc"/>
<rect x="270.0" y="366" width="9.0" height="1" fill="#70d49e"/>
<rect x="270.0" y="367" width="20.0" height="1" fill="#a5f0fc"/>
<rect x="270.0" y="367" width="10.0" height="1" fill="#70d49e"/>
<rect x="270.0" y="368" width="20.0" height="1" fill="#a5f0fc"/>
<rect x="270.0" y="368" width="10.0" height="1" fill="#70d49e"/>
<rect x="270.0" y="369" width="20.0" height="1" fill="#a5f0fc"/>
<rect x="270.0" y="369" width="10.0" height="1" fill="#70d49e"/>
<rect x="270.0" y="371" width="17.0" height="1" fill="#a5f0fc"/>
<rect x="270.0" y="371" width="7.0" height="1" fill="#70d49e"/>
<rect x="270.0" y="372" width="19.0" height="1" fill="#a5f0fc"/>
<rect x="270.0" y="372" width="9.0" height="1" fill="#70d49e"/>
<rect x="270.0" y="373" width="20.0" height="1" fill="#a5f0fc"/>
<rect x="270.0" y="373" width="10.0" height="1" fill="#70d49e"/>
<rect x="270.0" y="375" width="19.0" height="1" fill="#a5f0fc"/>
<rect x="270.0" y="375" width="9.0" height="1" fill="#70d49e"/>
<rect x="270.0" y="376" width="20.0" height="1" fill="#a5f0fc"/>
<rect x="270.0" y="376" width="11.0" height="1" fill="#70d49e"/>
<rect x="270.0" y="377" width="17.0" height="1" fill="#a5f0fc"/>
<rect x="270.0" y="377" width="8.0" height="1" fill="#70d49e"/>
<rect x="270.0" y="379" width="19.0" height="1" fill="#a5f0fc"/>
<rect x="270.0" y="379" width="10.0" height="1" fill="#70d49e"/>
<rect x="270.0" y="380" width="19.0" height="1" fill="#a5f0fc"/>
<rect x="270.0" y="380" width="9.0" height="1" fill="#70d49e"/>
<rect x="270.0" y="381" width="20.0" height="1" fill="#a5f0fc"/>
<rect x="270.0" y="381" width="10.0" height="1" fill="#70d49e"/>
<rect x="270.0" y="382" width="18.0" height="1" fill="#a5f0fc"/>
<rect x="270.0" y="382" width="8.0" height="1" fill="#70d49e"/>
<rect x="270.0" y="384" width="18.0" height="1" fill="#a5f0fc"/>
<rect x="270.0" y="384" width="8.0" height="1" fill="#70d49e"/>
<rect x="270.0" y="385" width="16.0" height="1" fill="#a5f0fc"/>
<rect x="270.0" y="385" width="7.0" height="1" fill="#70d49e"/>
<rect x="270.0" y="386" width="19.0" height="1" fill="#a5f0fc"/>
<rect x="270.0" y="386" width="9.0" height="1" fill="#70d49e"/>
<rect x="270.0" y="388" width="19.0" height="1" fill="#a5f0fc"/>
<rect x="270.0" y="388" width="9.0" height="1" fill="#70d49e"/>
<rect x="270.0" y="389" width="19.0" height="1" fill="#a5f0fc"/>
<rect x="270.0" y="389" width="9.0" height="1" fill="#70d49e"/>
<rect x="270.0" y="390" width="21.0" height="1" fill="#a5f0fc"/>
<rect x="270.0" y="390" width="11.0" height="1" fill="#70d49e"/>
<rect x="270.0" y="392" width="18.0" height="1" fill="#a5f0fc"/>
<rect x="270.0" y="392" width="8.0" height="1" fill="#70d49e"/>
<rect x="270.0" y="393" width="18.0" height="1" fill="#a5f0fc"/>
<rect x="270.0" y="393" width="9.0" height="1" fill="#70d49e"/>
<rect x="270.0" y="394" width="19.0" height="1" fill="#a5f0fc"/>
<rect x="270.0" y="394" width="9.0" height="1" fill="#70d49e"/>
<rect x="270.0" y="395" width="18.0" height="1" fill="#a5f0fc"/>
<rect x="270.0" y="395" width="9.0" height="1" fill="#70d49e"/>
<rect x="270.0" y="397" width="18.0" height="1" fill="#a5f0fc"/>
<rect x="270.0" y="397" width="9.0" height="1" fill="#70d49e"/>
<rect x="270.0" y="398" width="19.0" height="1" fill="#a5f0fc"/>
<rect x="270.0" y="398" width="9.0" height="1" fill="#70d49e"/>
<rect x="270.0" y="399" width="18.0" height="1" fill="#a5f0fc"/>
<rect x="270.0" y="399" width="9.0" height="1" fill="#70d49e"/>
<rect x="270.0" y="401" width="18.0" height="1" fill="#a5f0fc"/>
<rect x="270.0" y="401" width="8.0" height="1" fill="#70d49e"/>
<rect x="270.0" y="402" width="18.0" height="1" fill="#a5f0fc"/>
<rect x="270.0" y="402" width="8.0" height="1" fill="#70d49e"/>
<rect x="270.0" y="403" width="17.0" height="1" fill="#a5f0fc"/>
<rect x="270.0" y="403" width="8.0" height="1" fill="#70d49e"/>
<rect x="270.0" y="405" width="18.0" height="1" fill="#a5f0fc"/>
<rect x="270.0" y="405" width="8.0" height="1" fill="#70d49e"/>
<rect x="270.0" y="406" width="18.0" height="1" fill="#a5f0fc"/>
<rect x="270.0" y="406" width="9.0" height="1" fill="#70d49e"/>
<rect x="270.0" y="407" width="19.0" height="1" fill="#a5f0fc"/>
<rect x="270.0" y="407" width="10.0" height="1" fill="#70d49e"/>
<rect x="270.0" y="408" width="19.0" height="1" fill="#a5f0fc"/>
<rect x="270.0" y="408" width="9.0" height="1" fill="#70d49e"/>
<rect x="270.0" y="410" width="18.0" height="1" fill="#a5f0fc"/>
<rect x="270.0" y="410" width="8.0" height="1" fill="#70d49e"/>
<rect x="270.0" y="411" width="17.0" height="1" fill="#a5f0fc"/>
<rect x="270.0" y="411" width="9.0" height="1" fill="#70d49e"/>
<rect x="270.0" y="412" width="18.0" height="1" fill="#a5f0fc"/>
<rect x="270.0" y="412" width="9.0" height="1" fill="#70d49e"/>
<rect x="270.0" y="414" width="18.0" height="1" fill="#a5f0fc"/>
<rect x="270.0" y="414" width="9.0" height="1" fill="#70d49e"/>
<rect x="270.0" y="415" width="19.0" height="1" fill="#a5f0fc"/>
<rect x="270.0" y="415" width="10.0" height="1" fill="#70d49e"/>
<rect x="270.0" y="416" width="17.0" height="1" fill="#a5f0fc"/>
<rect x="270.0" y="416" width="8.0" height="1" fill="#70d49e"/>
<rect x="270.0" y="417" width="17.0" height="1" fill="#a5f0fc"/>
<rect x="270.0" y="417" width="8.0" height="1" fill="#70d49e"/>
<rect x="270.0" y="419" width="17.0" height="1" fill="#a5f0fc"/>
<rect x="270.0" y="419" width="8.0" height="1" fill="#70d49e"/>
<rect x="270.0" y="420" width="18.0" height="1" fill="#a5f0fc"/>
<rect x="270.0" y="420" width="9.0" height="1" fill="#70d49e"/>
<rect x="270.0" y="421" width="19.0" height="1" fill="#a5f0fc"/>
<rect x="270.0" y="421" width="9.0" height="1" fill="#70d49e"/>
<rect x="270.0" y="423" width="19.0" height="1" fill="#a5f0fc"/>
<rect x="270.0" y="423" width="10.0" height="1" fill="#70d49e"/>
<rect x="270.0" y="424" width="18.0" height="1" fill="#a5f0fc"/>
<rect x="270.0" y="424" width="8.0" height="1" fill="#70d49e"/>
<rect x="270.0" y="425" width="18.0" height="1" fill="#a5f0fc"/>
<rect x="270.0" y="425" width="9.0" height="1" fill="#70d49e"/>
<rect x="270.0" y="427" width="18.0" height="1" fill="#a5f0fc"/>
<rect x="270.0" y="427" width="9.0" height="1" fill="#70d49e"/>
<rect x="270.0" y="428" width="17.0" height="1" fill="#a5f0fc"/>
<rect x="270.0" y="428" width="8.0" height="1" fill="#70d49e"/>
<rect x="270.0" y="429" width="17.0" height="1" fill="#a5f0fc"/>
<rect x="270.0" y="429" width="8.0" height="1" fill="#70d49e"/>
<rect x="270.0" y="430" width="17.0" height="1" fill="#a5f0fc"/>
<rect x="270.0" y="430" width="8.0" height="1" fill="#70d49e"/>
<rect x="270.0" y="432" width="17.0" height="1" fill="#a5f0fc"/>
<rect x="270.0" y="432" width="8.0" height="1" fill="#70d49e"/>
<rect x="270.0" y="433" width="17.0" height="1" fill="#a5f0fc"/>
<rect x="270.0" y="433" width="8.0" height="1" fill="#70d49e"/>
<rect x="270.0" y="434" width="17.0" height="1" fill="#a5f0fc"/>
<rect x="270.0" y="434" width="8.0" height="1" fill="#70d49e"/>
<rect x="270.0" y="436" width="16.0" height="1" fill="#a5f0fc"/>
<rect x="270.0" y="436" width="7.0" height="1" fill="#70d49e"/>
<rect x="270.0" y="437" width="15.0" height="1" fill="#a5f0fc"/>
<rect x="270.0" y="437" width="6.0" height="1" fill="#70d49e"/>
<rect x="270.0" y="438" width="17.0" height="1" fill="#a5f0fc"/>
<rect x="270.0" y="438" width="9.0" height="1" fill="#70d49e"/>
<rect x="270.0" y="440" width="17.0" height="1" fill="#a5f0fc"/>
<rect x="270.0" y="440" width="9.0" height="1" fill="#70d49e"/>
<rect x="270.0" y="441" width="17.0" height="1" fill="#a5f0fc"/>
<rect x="270.0" y="441" width="8.0" height="1" fill="#70d49e"/>
<rect x="270.0" y="442" width="18.0" height="1" fill="#a5f0fc"/>
<rect x="270.0" y="442" width="9.0" height="1" fill="#70d49e"/>
<rect x="270.0" y="443" width="18.0" height="1" fill="#a5f0fc"/>
<rect x="270.0" y="443" width="9.0" height="1" fill="#70d49e"/>
<rect x="270.0" y="445" width="17.0" height="1" fill="#a5f0fc"/>
<rect x="270.0" y="445" width="8.0" height="1" fill="#70d49e"/>
<rect x="270.0" y="446" width="17.0" height="1" fill="#a5f0fc"/>
<rect x="270.0" y="446" width="9.0" height="1" fill="#70d49e"/>
<rect x="270.0" y="447" width="16.0" height="1" fill="#a5f0fc"/>
<rect x="270.0" y="447" width="7.0" height="1" fill="#70d49e"/>
<rect x="270.0" y="449" width="17.0" height="1" fill="#a5f0fc"/>
<rect x="270.0" y="449" width="9.0" height="1" fill="#70d49e"/>
<rect x="270.0" y="450" width="17.0" height="1" fill="#a5f0fc"/>
<rect x="270.0" y="450" width="8.0" height="1" fill="#70d49e"/>
<rect x="270.0" y="451" width="18.0" height="1" fill="#a5f0fc"/>
<rect x="270.0" y="451" width="9.0" height="1" fill="#70d49e"/>
<rect x="270.0" y="453" width="16.0" height="1" fill="#a5f0fc"/>
<rect x="270.0" y="453" width="8.0" height="1" fill="#70d49e"/>
<rect x="270.0" y="454" width="14.0" height="1" fill="#a5f0fc"/>
<rect x="270.0" y="454" width="6.0" height="1" fill="#70d49e"/>
<rect x="270.0" y="455" width="16.0" height="1" fill="#a5f0fc"/>
<rect x="270.0" y="455" width="8.0" height="1" fill="#70d49e"/>
<rect x="270.0" y="456" width="16.0" height="1" fill="#a5f0fc"/>
<rect x="270.0" y="456" width="8.0" height="1" fill="#70d49e"/>
<rect x="270.0" y="458" width="16.0" height="1" fill="#a5f0fc"/>
<rect x="270.0" y="458" width="8.0" height="1" fill="#70d49e"/>
<rect x="270.0" y="459" width="15.0" height="1" fill="#a5f0fc"/>
<rect x="270.0" y="459" width="7.0" height="1" fill="#70d49e"/>
<rect x="270.0" y="460" width="16.0" height="1" fill="#a5f0fc"/>
<rect x="270.0" y="460" width="8.0" height="1" fill="#70d49e"/>
<rect x="270.0" y="462" width="14.0" height="1" fill="#a5f0fc"/>
<rect x="270.0" y="462" width="6.0" height="1" fill="#70d49e"/>
<rect x="270.0" y="463" width="16.0" height="1" fill="#a5f0fc"/>
<rect x="270.0" y="463" width="8.0" height="1" fill="#70d49e"/>
<rect x="270.0" y="464" width="15.0" height="1" fill="#a5f0fc"/>
<rect x="270.0" y="464" width="7.0" height="1" fill="#70d49e"/>
<rect x="270.0" y="466" width="15.0" height="1" fill="#a5f0fc"/>
<rect x="270.0" y="466" width="7.0" height="1" fill="#70d49e"/>
<rect x="270.0" y="467" width="16.0" height="1" fill="#a5f0fc"/>
<rect x="270.0" y="467" width="8.0" height="1" fill="#70d49e"/>
<rect x="270.0" y="468" width="15.0" height="1" fill="#a5f0fc"/>
<rect x="270.0" y="468" width="7.0" height="1" fill="#70d49e"/>
<rect x="270.0" y="469" width="15.0" height="1" fill="#a5f0fc"/>
<rect x="270.0" y="469" width="7.0" height="1" fill="#70d49e"/>
<rect x="270.0" y="471" width="16.0" height="1" fill="#a5f0fc"/>
<rect x="270.0" y="471" width="8.0" height="1" fill="#70d49e"/>
<rect x="270.0" y="472" width="16.0" height="1" fill="#a5f0fc"/>
<rect x="270.0" y="472" width="8.0" height="1" fill="#70d49e"/>
<rect x="270.0" y="473" width="14.0" height="1" fill="#a5f0fc"/>
<rect x="270.0" y="473" width="6.0" height="1" fill="#70d49e"/>
<rect x="270.0" y="475" width="15.0" height="1" fill="#a5f0fc"/>
<rect x="270.0" y="475" width="8.0" height="1" fill="#70d49e"/>
<rect x="270.0" y="476" width="15.0" height="1" fill="#a5f0fc"/>
<rect x="270.0" y="476" width="7.0" height="1" fill="#70d49e"/>
<rect x="270.0" y="477" width="13.0" height="1" fill="#a5f0fc"/>
<rect x="270.0" y="477" width="6.0" height="1" fill="#70d49e"/>
<rect x="270.0" y="478" width="14.0" height="1" fill="#a5f0fc"/>
<rect x="270.0" y="478" width="6.0" height="1" fill="#70d49e"/>
<rect x="270.0" y="480" width="14.0" height="1" fill="#a5f0fc"/>
<rect x="270.0" y="480" width="6.0" height="1" fill="#70d49e"/>
<rect x="270.0" y="481" width="15.0" height="1" fill="#a5f0fc"/>
<rect x="270.0" y="481" width="8.0" height="1" fill="#70d49e"/>
<rect x="270.0" y="482" width="15.0" height="1" fill="#a5f0fc"/>
<rect x="270.0" y="482" width="8.0" height="1" fill="#70d49e"/>
<rect x="270.0" y="484" width="15.0" height="1" fill="#a5f0fc"/>
<rect x="270.0" y="484" width="7.0" height="1" fill="#70d49e"/>
<rect x="270.0" y="485" width="14.0" height="1" fill="#a5f0fc"/>
<rect x="270.0" y="485" width="6.0" height="1" fill="#70d49e"/>
<rect x="270.0" y="486" width="15.0" height="1" fill="#a5f0fc"/>
<rect x="270.0" y="486" width="8.0" height="1" fill="#70d49e"/>
<rect x="270.0" y="488" width="14.0" height="1" fill="#a5f0fc"/>
<rect x="270.0" y="488" width="7.0" height="1" fill="#70d49e"/>
<rect x="270.0" y="489" width="14.0" height="1" fill="#a5f0fc"/>
<rect x="270.0" y="489" width="7.0" height="1" fill="#70d49e"/>
<rect x="270.0" y="490" width="15.0" height="1" fill="#a5f0fc"/>
<rect x="270.0" y="490" width="8.0" height="1" fill="#70d49e"/>
<rect x="270.0" y="491" width="14.0" height="1" fill="#a5f0fc"/>
<rect x="270.0" y="491" width="6.0" height="1" fill="#70d49e"/>
<rect x="270.0" y="493" width="14.0" height="1" fill="#a5f0fc"/>
<rect x="270.0" y="493" width="6.0" height="1" fill="#70d49e"/>
<rect x="270.0" y="494" width="14.0" height="1" fill="#a5f0fc"/>
<rect x="270.0" y="494" width="6.0" height="1" fill="#70d49e"/>
<rect x="270.0" y="495" width="17.0" height="1" fill="#a5f0fc"/>
<rect x="270.0" y="495" width="10.0" height="1" fill="#70d49e"/>
<rect x="270.0" y="497" width="14.0" height="1" fill="#a5f0fc"/>
<rect x="270.0" y="497" width="7.0" height="1" fill="#70d49e"/>
<rect x="270.0" y="498" width="16.0" height="1" fill="#a5f0fc"/>
<rect x="270.0" y="498" width="9.0" height="1" fill="#70d49e"/>
<rect x="270.0" y="499" width="12.0" height="1" fill="#a5f0fc"/>
<rect x="270.0" y="499" width="5.0" height="1" fill="#70d49e"/>
<rect x="270.0" y="501" width="13.0" height="1" fill="#a5f0fc"/>
<rect x="270.0" y="501" width="6.0" height="1" fill="#70d49e"/>
<rect x="270.0" y="502" width="14.0" height="1" fill="#a5f0fc"/>
<rect x="270.0" y="502" width="7.0" height="1" fill="#70d49e"/>
<rect x="270.0" y="503" width="14.0" height="1" fill="#a5f0fc"/>
<rect x="270.0" y="503" width="7.0" height="1" fill="#70d49e"/>
<rect x="270.0" y="504" width="14.0" height="1" fill="#a5f0fc"/>
<rect x="270.0" y="504" width="7.0" height="1" fill="#70d49e"/>
<rect x="270.0" y="506" width="14.0" height="1" fill="#a5f0fc"/>
<rect x="270.0" y="506" width="7.0" height="1" fill="#70d49e"/>
<rect x="270.0" y="507" width="12.0" height="1" fill="#a5f0fc"/>
<rect x="270.0" y="507" width="5.0" height="1" fill="#70d49e"/>
<rect x="270.0" y="508" width="15.0" height="1" fill="#a5f0fc"/>
<rect x="270.0" y="508" width="8.0" height="1" fill="#70d49e"/>
<rect x="270.0" y="510" width="14.0" height="1" fill="#a5f0fc"/>
<rect x="270.0" y="510" width="7.0" height="1" fill="#70d49e"/>
<rect x="270.0" y="511" width="13.0" height="1" fill="#a5f0fc"/>
<rect x="270.0" y="511" width="7.0" height="1" fill="#70d49e"/>
<rect x="270.0" y="512" width="12.0" height="1" fill="#a5f0fc"/>
<rect x="270.0" y="512" width="6.0" height="1" fill="#70d49e"/>
<rect x="270.0" y="514" width="12.0" height="1" fill="#a5f0fc"/>
<rect x="270.0" y="514" width="5.0" height="1" fill="#70d49e"/>
<rect x="270.0" y="515" width="13.0" height="1" fill="#a5f0fc"/>
<rect x="270.0" y="515" width="6.0" height="1" fill="#70d49e"/>
<rect x="270.0" y="516" width="12.0" height="1" fill="#a5f0fc"/>
<rect x="270.0" y="516" width="6.0" height="1" fill="#70d49e"/>
<rect x="270.0" y="517" width="13.0" height="1" fill="#a5f0fc"/>
<rect x="270.0" y="517" width="6.0" height="1" fill="#70d49e"/>
<rect x="270.0" y="519" width="12.0" height="1" fill="#a5f0fc"/>
<rect x="270.0" y="519" width="5.0" height="1" fill="#70d49e"/>
<rect x="270.0" y="520" width="13.0" height="1" fill="#a5f0fc"/>
<rect x="270.0" y="520" width="6.0" height="1" fill="#70d49e"/>
<rect x="270.0" y="521" width="12.0" height="1" fill="#a5f0fc"/>
<rect x="270.0" y="521" width="6.0" height="1" fill="#70d49e"/>
<rect x="270.0" y="523" width="13.0" height="1" fill="#a5f0fc"/>
<rect x="270.0" y="523" width="7.0" height="1" fill="#70d49e"/>
<rect x="270.0" y="524" width="9.0" height="1" fill="#a5f0fc"/>
<rect x="270.0" y="524" width="3.0" height="1" fill="#70d49e"/>
<rect x="270.0" y="525" width="13.0" height="1" fill="#a5f0fc"/>
<rect x="270.0" y="525" width="6.0" height="1" fill="#70d49e"/>
<rect x="270.0" y="527" width="14.0" height="1" fill="#a5f0fc"/>
<rect x="270.0" y="527" width="8.0" height="1" fill="#70d49e"/>
<rect x="270.0" y="528" width="12.0" height="1" fill="#a5f0fc"/>
<rect x="270.0" y="528" width="6.0" height="1" fill="#70d49e"/>
<rect x="270.0" y="529" width="13.0" height="1" fill="#a5f0fc"/>
<rect x="270.0" y="529" width="6.0" height="1" fill="#70d49e"/>
<rect x="270.0" y="530" width="14.0" height="1" fill="#a5f0fc"/>
<rect x="270.0" y="530" width="8.0" height="1" fill="#70d49e"/>
<rect x="270.0" y="532" width="13.0" height="1" fill="#a5f0fc"/>
<rect x="270.0" y="532" width="7.0" height="1" fill="#70d49e"/>
<rect x="270.0" y="533" width="12.0" height="1" fill="#a5f0fc"/>
<rect x="270.0" y="533" width="6.0" height="1" fill="#70d49e"/>
<rect x="270.0" y="534" width="12.0" height="1" fill="#a5f0fc"/>
<rect x="270.0" y="534" width="6.0" height="1" fill="#70d49e"/>
<rect x="270.0" y="536" width="12.0" height="1" fill="#a5f0fc"/>
<rect x="270.0" y="536" width="5.0" height="1" fill="#70d49e"/>
<rect x="270.0" y="537" width="13.0" height="1" fill="#a5f0fc"/>
<rect x="270.0" y="537" width="6.0" height="1" fill="#70d49e"/>
<rect x="270.0" y="538" width="12.0" height="1" fill="#a5f0fc"/>
<rect x="270.0" y="538" width="5.0" height="1" fill="#70d49e"/>
<rect x="270.0" y="539" width="11.0" height="1" fill="#a5f0fc"/>
<rect x="270.0" y="539" width="5.0" height="1" fill="#70d49e"/>
<rect x="270.0" y="541" width="12.0" height="1" fill="#a5f0fc"/>
<rect x="270.0" y="541" width="6.0" height="1" fill="#70d49e"/>
<rect x="270.0" y="542" width="11.0" height="1" fill="#a5f0fc"/>
<rect x="270.0" y="542" width="5.0" height="1" fill="#70d49e"/>
<rect x="270.0" y="543" width="12.0" height="1" fill="#a5f0fc"/>
<rect x="270.0" y="543" width="6.0" height="1" fill="#70d49e"/>
<rect x="270.0" y="545" width="12.0" height="1" fill="#a5f0fc"/>
<rect x="270.0" y="545" width="6.0" height="1" fill="#70d49e"/>
<rect x="270.0" y="546" width="12.0" height="1" fill="#a5f0fc"/>
<rect x="270.0" y="546" width="6.0" height="1" fill="#70d49e"/>
<rect x="270.0" y="547" width="12.0" height="1" fill="#a5f0fc"/>
<rect x="270.0" y="547" width="6.0" height="1" fill="#70d49e"/>
<rect x="270.0" y="549" width="12.0" height="1" fill="#a5f0fc"/>
<rect x="270.0" y="549" width="6.0" height="1" fill="#70d49e"/>
<rect x="270.0" y="550" width="10.0" height="1" fill="#a5f0fc"/>
<rect x="270.0" y="550" width="4.0" height="1" fill="#70d49e"/>
<rect x="270.0" y="551" width="11.0" height="1" fill="#a5f0fc"/>
<rect x="270.0" y="551" width="6.0" height="1" fill="#70d49e"/>
<rect x="270.0" y="552" width="12.0" height="1" fill="#a5f0fc"/>
<rect x="270.0" y="552" width="6.0" height="1" fill="#70d49e"/>
<rect x="270.0" y="554" width="12.0" height="1" fill="#a5f0fc"/>
<rect x="270.0" y="554" width="6.0" height="1" fill="#70d49e"/>
<rect x="270.0" y="555" width="11.0" height="1" fill="#a5f0fc"/>
<rect x="270.0" y="555" width="5.0" height="1" fill="#70d49e"/>
<rect x="270.0" y="556" width="13.0" height="1" fill="#a5f0fc"/>
<rect x="270.0" y="556" width="7.0" height="1" fill="#70d49e"/>
<rect x="270.0" y="558" width="11.0" height="1" fill="#a5f0fc"/>
<rect x="270.0" y="558" width="5.0" height="1" fill="#70d49e"/>
<rect x="270.0" y="559" width="12.0" height="1" fill="#a5f0fc"/>
<rect x="270.0" y="559" width="6.0" height="1" fill="#70d49e"/>
<rect x="270.0" y="560" width="11.0" height="1" fill="#a5f0fc"/>
<rect x="270.0" y="560" width="5.0" height="1" fill="#70d49e"/>
<rect x="270.0" y="562" width="10.0" height="1" fill="#a5f0fc"/>
<rect x="270.0" y="562" width="4.0" height="1" fill="#70d49e"/>
<rect x="270.0" y="563" width="11.0" height="1" fill="#a5f0fc"/>
<rect x="270.0" y="563" width="5.0" height="1" fill="#70d49e"/>
<rect x="270.0" y="564" width="10.0" height="1" fill="#a5f0fc"/>
<rect x="270.0" y="564" width="6.0" height="1" fill="#70d49e"/>
<rect x="270.0" y="565" width="12.0" height="1" fill="#a5f0fc"/>
<rect x="270.0" y="565" width="6.0" height="1" fill="#70d49e"/>
<rect x="270.0" y="567" width="10.0" height="1" fill="#a5f0fc"/>
<rect x="270.0" y="567" width="5.0" height="1" fill="#70d49e"/>
<rect x="270.0" y="568" width="10.0" height="1" fill="#a5f0fc"/>
<rect x="270.0" y="568" width="5.0" height="1" fill="#70d49e"/>
<rect x="270.0" y="569" width="11.0" height="1" fill="#a5f0fc"/>
<rect x="270.0" y="569" width="6.0" height="1" fill="#70d49e"/>
<rect x="270.0" y="571" width="10.0" height="1" fill="#a5f0fc"/>
<rect x="270.0" y="571" width="5.0" height="1" fill="#70d49e"/>
<rect x="270.0" y="572" width="10.0" height="1" fill="#a5f0fc"/>
<rect x="270.0" y="572" width="5.0" height="1" fill="#70d49e"/>
<rect x="270.0" y="573" width="11.0" height="1" fill="#a5f0fc"/>
<rect x="270.0" y="573" width="6.0" height="1" fill="#70d49e"/>
<rect x="270.0" y="575" width="10.0" height="1" fill="#a5f0fc"/>
<rect x="270.0" y="575" width="5.0" height="1" fill="#70d49e"/>
<rect x="270.0" y="576" width="9.0" height="1" fill="#a5f0fc"/>
<rect x="270.0" y="576" width="4.0" height="1" fill="#70d49e"/>
<rect x="270.0" y="577" width="9.0" height="1" fill="#a5f0fc"/>
<rect x="270.0" y="577" width="4.0" height="1" fill="#70d49e"/>
<rect x="270.0" y="578" width="9.0" height="1" fill="#a5f0fc"/>
<rect x="270.0" y="578" width="4.0" height="1" fill="#70d49e"/>
<rect x="270.0" y="580" width="10.0" height="1" fill="#a5f0fc"/>
<rect x="270.0" y="580" width="5.0" height="1" fill="#70d49e"/>
<rect x="270.0" y="581" width="11.0" height="1" fill="#a5f0fc"/>
<rect x="270.0" y="581" width="6.0" height="1" fill="#70d49e"/>
<rect x="270.0" y="582" width="9.0" height="1" fill="#a5f0fc"/>
<rect x="270.0" y="582" width="5.0" height="1" fill="#70d49e"/>
<rect x="270.0" y="584" width="6.0" height="1" fill="#a5f0fc"/>
<rect x="270.0" y="584" width="1.0" height="1" fill="#70d49e"/>
<rect x="270.0" y="585" width="10.0" height="1" fill="#a5f0fc"/>
<rect x="270.0" y="585" width="6.0" height="1" fill="#70d49e"/>
<rect x="270.0" y="586" width="10.0" height="1" fill="#a5f0fc"/>
<rect x="270.0" y="586" width="6.0" height="1" fill="#70d49e"/>
<rect x="270.0" y="588" width="8.0" height="1" fill="#a5f0fc"/>
<rect x="270.0" y="588" width="3.0" height="1" fill="#70d49e"/>
<rect x="270.0" y="589" width="9.0" height="1" fill="#a5f0fc"/>
<rect x="270.0" y="589" width="4.0" height="1" fill="#70d49e"/>
<rect x="270.0" y="590" width="10.0" height="1" fill="#a5f0fc"/>
<rect x="270.0" y="590" width="5.0" height="1" fill="#70d49e"/>
<rect x="270.0" y="591" width="10.0" height="1" fill="#a5f0fc"/>
<rect x="270.0" y="591" width="5.0" height="1" fill="#70d49e"/>
<rect x="270.0" y="593" width="9.0" height="1" fill="#a5f0fc"/>
<rect x="270.0" y="593" width="4.0" height="1" fill="#70d49e"/>
<rect x="270.0" y="594" width="10.0" height="1" fill="#a5f0fc"/>
<rect x="270.0" y="594" width="5.0" height="1" fill="#70d49e"/>
<rect x="270.0" y="595" width="9.0" height="1" fill="#a5f0fc"/>
<rect x="270.0" y="595" width="4.0" height="1" fill="#70d49e"/>
<rect x="270.0" y="597" width="10.0" height="1" fill="#a5f0fc"/>
<rect x="270.0" y="597" width="5.0" height="1" fill="#70d49e"/>
<rect x="270.0" y="598" width="9.0" height="1" fill="#a5f0fc"/>
<rect x="270.0" y="598" width="5.0" height="1" fill="#70d49e"/>
<rect x="270.0" y="599" width="9.0" height="1" fill="#a5f0fc"/>
<rect x="270.0" y="599" width="5.0" height="1" fill="#70d49e"/>
<rect x="270.0" y="601" width="10.0" height="1" fill="#a5f0fc"/>
<rect x="270.0" y="601" width="4.0" height="1" fill="#70d49e"/>
<rect x="270.0" y="602" width="9.0" height="1" fill="#a5f0fc"/>
<rect x="270.0" y="602" width="5.0" height="1" fill="#70d49e"/>
<rect x="270.0" y="603" width="10.0" height="1" fill="#a5f0fc"/>
<rect x="270.0" y="603" width="5.0" height="1" fill="#70d49e"/>
<rect x="270.0" y="604" width="10.0" height="1" fill="#a5f0fc"/>
<rect x="270.0" y="604" width="5.0" height="1" fill="#70d49e"/>
<rect x="270.0" y="606" width="8.0" height="1" fill="#a5f0fc"/>
<rect x="270.0" y="606" width="3.0" height="1" fill="#70d49e"/>
<rect x="270.0" y="607" width="8.0" height="1" fill="#a5f0fc"/>
<rect x="270.0" y="607" width="4.0" height="1" fill="#70d49e"/>
<rect x="270.0" y="608" width="9.0" height="1" fill="#a5f0fc"/>
<rect x="270.0" y="608" width="5.0" height="1" fill="#70d49e"/>
<rect x="270.0" y="610" width="8.0" height="1" fill="#a5f0fc"/>
<rect x="270.0" y="610" width="4.0" height="1" fill="#70d49e"/>
<rect x="270.0" y="611" width="8.0" height="1" fill="#a5f0fc"/>
<rect x="270.0" y="611" width="4.0" height="1" fill="#70d49e"/>
<rect x="270.0" y="612" width="8.0" height="1" fill="#a5f0fc"/>
<rect x="270.0" y="612" width="4.0" height="1" fill="#70d49e"/>
<rect x="270.0" y="613" width="8.0" height="1" fill="#a5f0fc"/>
<rect x="270.0" y="613" width="4.0" height="1" fill="#70d49e"/>
<rect x="270.0" y="615" width="8.0" height="1" fill="#a5f0fc"/>
<rect x="270.0" y="615" width="4.0" height="1" fill="#70d49e"/>
<rect x="270.0" y="616" width="8.0" height="1" fill="#a5f0fc"/>
<rect x="270.0" y="616" width="4.0" height="1" fill="#70d49e"/>
<rect x="270.0" y="617" width="7.0" height="1" fill="#a5f0fc"/>
<rect x="270.0" y="617" width="3.0" height="1" fill="#70d49e"/>
<rect x="270.0" y="619" width="8.0" height="1" fill="#a5f0fc"/>
<rect x="270.0" y="619" width="4.0" height="1" fill="#70d49e"/>
<rect x="270.0" y="620" width="10.0" height="1" fill="#a5f0fc"/>
<rect x="270.0" y="620" width="6.0" height="1" fill="#70d49e"/>
<rect x="270.0" y="621" width="9.0" height="1" fill="#a5f0fc"/>
<rect x="270.0" y="621" width="5.0" height="1" fill="#70d49e"/>
<rect x="270.0" y="623" width="7.0" height="1" fill="#a5f0fc"/>
<rect x="270.0" y="623" width="4.0" height="1" fill="#70d49e"/>
<rect x="270.0" y="624" width="7.0" height="1" fill="#a5f0fc"/>
<rect x="270.0" y="624" width="4.0" height="1" fill="#70d49e"/>
<rect x="270.0" y="625" width="8.0" height="1" fill="#a5f0fc"/>
<rect x="270.0" y="625" width="5.0" height="1" fill="#70d49e"/>
<rect x="270.0" y="626" width="10.0" height="1" fill="#a5f0fc"/>
<rect x="270.0" y="626" width="7.0" height="1" fill="#70d49e"/>
<rect x="270.0" y="628" width="7.0" height="1" fill="#a5f0fc"/>
<rect x="270.0" y="628" width="4.0" height="1" fill="#70d49e"/>
<rect x="270.0" y="629" width="5.0" height="1" fill="#a5f0fc"/>
<rect x="270.0" y="629" width="3.0" height="1" fill="#70d49e"/>
<rect x="270.0" y="630" width="7.0" height="1" fill="#a5f0fc"/>
<rect x="270.0" y="630" width="4.0" height="1" fill="#70d49e"/>
<rect x="270.0" y="632" width="7.0" height="1" fill="#a5f0fc"/>
<rect x="270.0" y="632" width="4.0" height="1" fill="#70d49e"/>
<rect x="270.0" y="633" width="6.0" height="1" fill="#a5f0fc"/>
<rect x="270.0" y="633" width="3.0" height="1" fill="#70d49e"/>
<rect x="270.0" y="634" width="7.0" height="1" fill="#a5f0fc"/>
<rect x="270.0" y="634" width="4.0" height="1" fill="#70d49e"/>
<rect x="270.0" y="636" width="7.0" height="1" fill="#a5f0fc"/>
<rect x="270.0" y="636" width="3.0" height="1" fill="#70d49e"/>
<rect x="270.0" y="637" width="15.0" height="1" fill="#a5f0fc"/>
<rect x="270.0" y="637" width="11.0" height="1" fill="#70d49e"/>
<rect x="270.0" y="638" width="6.0" height="1" fill="#a5f0fc"/>
<rect x="270.0" y="638" width="2.0" height="1" fill="#70d49e"/>
<rect x="270.0" y="639" width="7.0" height="1" fill="#a5f0fc"/>
<rect x="270.0" y="639" width="3.0" height="1" fill="#70d49e"/>
<rect x="270.0" y="641" width="7.0" height="1" fill="#a5f0fc"/>
<rect x="270.0" y="641" width="3.0" height="1" fill="#70d49e"/>
<rect x="270.0" y="642" width="6.0" height="1" fill="#a5f0fc"/>
<rect x="270.0" y="642" width="3.0" height="1" fill="#70d49e"/>
<rect x="270.0" y="643" width="6.0" height="1" fill="#a5f0fc"/>
<rect x="270.0" y="643" width="3.0" height="1" fill="#70d49e"/>
<rect x="270.0" y="645" width="7.0" height="1" fill="#a5f0fc"/>
<rect x="270.0" y="645" width="4.0" height="1" fill="#70d49e"/>
<rect x="270.0" y="646" width="6.0" height="1" fill="#a5f0fc"/>
<rect x="270.0" y="646" width="3.0" height="1" fill="#70d49e"/>
<rect x="270.0" y="647" width="6.0" height="1" fill="#a5f0fc"/>
<rect x="270.0" y="647" width="3.0" height="1" fill="#70d49e"/>
<rect x="270.0" y="649" width="6.0" height="1" fill="#a5f0fc"/>
<rect x="270.0" y="649" width="3.0" height="1" fill="#70d49e"/>
<rect x="270.0" y="650" width="6.0" height="1" fill="#a5f0fc"/>
<rect x="270.0" y="650" width="3.0" height="1" fill="#70d49e"/>
<rect x="270.0" y="651" width="6.0" height="1" fill="#a5f0fc"/>
<rect x="270.0" y="651" width="3.0" height="1" fill="#70d49e"/>
<rect x="270.0" y="652" width="6.0" height="1" fill="#a5f0fc"/>
<rect x="270.0" y="652" width="3.0" height="1" fill="#70d49e"/>
<rect x="270.0" y="654" width="6.0" height="1" fill="#a5f0fc"/>
<rect x="270.0" y="654" width="4.0" height="1" fill="#70d49e"/>
<rect x="270.0" y="655" width="6.0" height="1" fill="#a5f0fc"/>
<rect x="270.0" y="655" width="3.0" height="1" fill="#70d49e"/>
<rect x="270.0" y="656" width="5.0" height="1" fill="#a5f0fc"/>
<rect x="270.0" y="656" width="2.0" height="1" fill="#70d49e"/>
<rect x="270.0" y="658" width="6.0" height="1" fill="#a5f0fc"/>
<rect x="270.0" y="658" width="4.0" height="1" fill="#70d49e"/>
<rect x="270.0" y="659" width="6.0" height="1" fill="#a5f0fc"/>
<rect x="270.0" y="659" width="3.0" height="1" fill="#70d49e"/>
<rect x="270.0" y="660" width="5.0" height="1" fill="#a5f0fc"/>
<rect x="270.0" y="660" width="2.0" height="1" fill="#70d49e"/>
<rect x="270.0" y="662" width="6.0" height="1" fill="#a5f0fc"/>
<rect x="270.0" y="662" width="2.0" height="1" fill="#70d49e"/>
<rect x="270.0" y="663" width="5.0" height="1" fill="#a5f0fc"/>
<rect x="270.0" y="663" width="2.0" height="1" fill="#70d49e"/>
<rect x="270.0" y="664" width="4.0" height="1" fill="#a5f0fc"/>
<rect x="270.0" y="664" width="2.0" height="1" fill="#70d49e"/>
<rect x="270.0" y="665" width="4.0" height="1" fill="#a5f0fc"/>
<rect x="270.0" y="665" width="2.0" height="1" fill="#70d49e"/>
<rect x="270.0" y="667" width="4.0" height="1" fill="#a5f0fc"/>
<rect x="270.0" y="667" width="2.0" height="1" fill="#70d49e"/>
<rect x="270.0" y="668" width="4.0" height="1" fill="#a5f0fc"/>
<rect x="270.0" y="668" width="1.0" height="1" fill="#70d49e"/>
<rect x="270.0" y="669" width="3.0" height="1" fill="#a5f0fc"/>
<rect x="270.0" y="669" width="1.0" height="1" fill="#70d49e"/>
<rect x="270.0" y="671" width="4.0" height="1" fill="#a5f0fc"/>
<rect x="270.0" y="671" width="2.0" height="1" fill="#70d49e"/>
<rect x="270.0" y="672" width="3.0" height="1" fill="#a5f0fc"/>
<rect x="270.0" y="672" width="2.0" height="1" fill="#70d49e"/>
<rect x="270.0" y="673" width="6.0" height="1" fill="#a5f0fc"/>
<rect x="270.0" y="673" width="2.0" height="1" fill="#70d49e"/>
<rect x="270.0" y="674" width="3.0" height="1" fill="#a5f0fc"/>
<rect x="270.0" y="674" width="2.0" height="1" fill="#70d49e"/>
<rect x="270.0" y="676" width="3.0" height="1" fill="#a5f0fc"/>
<rect x="270.0" y="676" width="2.0" height="1" fill="#70d49e"/>
<rect x="270.0" y="677" width="3.0" height="1" fill="#a5f0fc"/>
<rect x="270.0" y="677" width="2.0" height="1" fill="#70d49e"/>
<rect x="270.0" y="678" width="3.0" height="1" fill="#a5f0fc"/>
<rect x="270.0" y="678" width="1.0" height="1" fill="#70d49e"/>
<rect x="270.0" y="680" width="2.0" height="1" fill="#a5f0fc"/>
<rect x="270.0" y="680" width="1.0" height="1" fill="#70d49e"/>
<rect x="268.0" y="681" width="4.3" height="1" fill="#70d49e"/>
<rect x="270.0" y="682" width="5.0" height="1" fill="#a5f0fc"/>
<rect x="270.0" y="682" width="2.0" height="1" fill="#70d49e"/>
<rect x="270.0" y="684" width="2.0" height="1" fill="#a5f0fc"/>
<rect x="270.0" y="684" width="1.0" height="1" fill="#70d49e"/>
<rect x="270.0" y="685" width="3.0" height="1" fill="#a5f0fc"/>
<rect x="270.0" y="685" width="2.0" height="1" fill="#70d49e"/>
<rect x="270.0" y="686" width="3.0" height="1" fill="#a5f0fc"/>
<rect x="270.0" y="686" width="1.0" height="1" fill="#70d49e"/>
<rect x="270.0" y="687" width="2.0" height="1" fill="#a5f0fc"/>
<rect x="270.0" y="687" width="1.0" height="1" fill="#70d49e"/>
<rect x="270.0" y="689" width="2.0" height="1" fill="#a5f0fc"/>
<rect x="270.0" y="689" width="1.0" height="1" fill="#70d49e"/>
<rect x="270.0" y="690" width="1.0" height="1" fill="#70d49e"/>
<rect x="252.8" y="691" width="17.2" height="1" fill="#a5f0fc"/>
<rect x="259.0" y="691" width="11.0" height="1" fill="#70d49e"/>
<rect x="243.9" y="693" width="26.1" height="1" fill="#a5f0fc"/>
<rect x="255.9" y="693" width="14.1" height="1" fill="#70d49e"/>
</g>
<g class="lab">
<text transform="translate(119.2,50.20) rotate(0.03) scale(0.962,1)" text-anchor="end">Venezuela</text>
<text transform="translate(119.2,64.48) rotate(0.03) scale(0.997,1)" text-anchor="end">Turkey</text>
<text transform="translate(119.2,78.75) rotate(0.03) scale(0.956,1)" text-anchor="end">Ethiopia</text>
<text transform="translate(119.2,93.03) rotate(0.03) scale(0.975,1)" text-anchor="end">Angola</text>
<text transform="translate(119.2,107.31) rotate(0.03) scale(0.944,1)" text-anchor="end">Ghana</text>
<text transform="translate(119.2,121.58) rotate(0.03) scale(0.933,1)" text-anchor="end">Latvia</text>
<text transform="translate(119.2,135.86) rotate(0.03) scale(0.961,1)" text-anchor="end">Lithuania</text>
<text transform="translate(119.2,150.14) rotate(0.03) scale(0.963,1)" text-anchor="end">Czech Republic</text>
<text transform="translate(119.2,164.42) rotate(0.03) scale(0.964,1)" text-anchor="end">Burundi</text>
<text transform="translate(119.2,178.69) rotate(0.03) scale(0.964,1)" text-anchor="end">Burundi</text>
<text transform="translate(119.2,192.97) rotate(0.03) scale(0.939,1)" text-anchor="end">Guinea</text>
<text transform="translate(119.2,207.25) rotate(0.03) scale(0.989,1)" text-anchor="end">Brazil</text>
<text transform="translate(119.2,221.52) rotate(0.03) scale(0.964,1)" text-anchor="end">Montenegro</text>
<text transform="translate(119.2,235.80) rotate(0.03) scale(0.945,1)" text-anchor="end">Rwanda</text>
<text transform="translate(119.2,250.08) rotate(0.03) scale(0.963,1)" text-anchor="end">Romania</text>
<text transform="translate(119.2,264.36) rotate(0.03) scale(0.978,1)" text-anchor="end">Uzbekistan</text>
<text transform="translate(119.2,278.63) rotate(0.03) scale(0.940,1)" text-anchor="end">Uruguay</text>
<text transform="translate(119.2,292.91) rotate(0.03) scale(0.962,1)" text-anchor="end">Armenia</text>
<text transform="translate(119.2,307.19) rotate(0.03) scale(0.928,1)" text-anchor="end">United States</text>
<text transform="translate(119.2,321.46) rotate(0.03) scale(0.928,1)" text-anchor="end">United States</text>
<text transform="translate(119.2,335.74) rotate(0.03) scale(0.964,1)" text-anchor="end">Mozambique</text>
<text transform="translate(119.2,350.02) rotate(0.03) scale(0.953,1)" text-anchor="end">Cape Verde</text>
<text transform="translate(119.2,364.29) rotate(0.03) scale(0.922,1)" text-anchor="end">Senegal</text>
<text transform="translate(119.2,378.57) rotate(0.03) scale(0.956,1)" text-anchor="end">Nepal</text>
<text transform="translate(119.2,392.85) rotate(0.03) scale(0.939,1)" text-anchor="end">Cyprus</text>
<text transform="translate(119.2,407.12) rotate(0.03) scale(0.881,1)" text-anchor="end">Italy</text>
<text transform="translate(119.2,421.40) rotate(0.03) scale(0.941,1)" text-anchor="end">Denmark</text>
<text transform="translate(119.2,435.68) rotate(0.03) scale(0.941,1)" text-anchor="end">Guinea Bissau</text>
<text transform="translate(119.2,449.96) rotate(0.03) scale(0.953,1)" text-anchor="end">Bangladesh</text>
<text transform="translate(119.2,464.23) rotate(0.03) scale(0.947,1)" text-anchor="end">New Zealand</text>
<text transform="translate(119.2,478.51) rotate(0.03) scale(0.958,1)" text-anchor="end">Papua New Guinea</text>
<text transform="translate(119.2,492.79) rotate(0.03) scale(0.974,1)" text-anchor="end">Philippines</text>
<text transform="translate(119.2,507.06) rotate(0.03) scale(1.004,1)" text-anchor="end">Iraq</text>
<text transform="translate(119.2,521.34) rotate(0.03) scale(0.965,1)" text-anchor="end">South Korea</text>
<text transform="translate(119.2,535.62) rotate(0.03) scale(0.949,1)" text-anchor="end">Ivory Coast</text>
<text transform="translate(119.2,549.89) rotate(0.03) scale(0.936,1)" text-anchor="end">Kuwait</text>
<text transform="translate(119.2,564.17) rotate(0.03) scale(0.949,1)" text-anchor="end">Ivory Coast</text>
<text transform="translate(119.2,578.45) rotate(0.03) scale(0.965,1)" text-anchor="end">Cambodia</text>
<text transform="translate(119.2,592.73) rotate(0.03) scale(0.973,1)" text-anchor="end">Chad</text>
<text transform="translate(119.2,607.00) rotate(0.03) scale(0.925,1)" text-anchor="end">Ecuador</text>
<text transform="translate(119.2,621.28) rotate(0.03) scale(0.952,1)" text-anchor="end">Vietnam</text>
<text transform="translate(119.2,635.56) rotate(0.03) scale(0.931,1)" text-anchor="end">Bermuda</text>
<text transform="translate(119.2,649.83) rotate(0.03) scale(0.911,1)" text-anchor="end">Seychelles</text>
<text transform="translate(119.2,664.11) rotate(0.03) scale(0.948,1)" text-anchor="end">Benin</text>
<text transform="translate(119.2,678.39) rotate(0.03) scale(0.956,1)" text-anchor="end">Gabon</text>
<text transform="translate(119.2,692.66) rotate(0.03) scale(0.956,1)" text-anchor="end">Bolivia</text>
<text transform="translate(133.9,713) scale(0.93,1)" text-anchor="middle">−100</text>
<text transform="translate(202.9,713) scale(0.93,1)" text-anchor="middle">−50</text>
<text transform="translate(270.9,713) scale(0.97,1)" text-anchor="middle">0</text>
<text transform="translate(339.9,713) scale(0.97,1)" text-anchor="middle">50</text>
<text transform="translate(408.9,713) scale(0.97,1)" text-anchor="middle">100</text>
<text transform="translate(476.9,713) scale(0.97,1)" text-anchor="middle">150</text>
<text transform="translate(545.9,713) scale(0.97,1)" text-anchor="middle">200</text>
<text transform="translate(613.9,713) scale(0.97,1)" text-anchor="middle">250</text>
<text transform="translate(682.9,713) scale(0.97,1)" text-anchor="middle">300</text>
<text transform="translate(751.9,713) scale(0.97,1)" text-anchor="middle">350</text>
<text transform="translate(819.9,713) scale(0.97,1)" text-anchor="middle">400</text>
<text transform="translate(888.9,713) scale(0.97,1)" text-anchor="middle">450</text>
<text transform="translate(956.9,713) scale(0.97,1)" text-anchor="middle">500</text>
<text transform="translate(1025.9,713) scale(0.97,1)" text-anchor="middle">550</text>
<text transform="translate(1094.9,713) scale(0.97,1)" text-anchor="middle">600</text>
<text transform="translate(1162.9,713) scale(0.97,1)" text-anchor="middle">650</text>
<text transform="translate(1221.5,713) scale(0.97,1)" text-anchor="middle">700</text>
</g>
<text class="axt" x="683" y="732" text-anchor="middle">Values</text>
<circle cx="498" cy="760" r="6.2" fill="#a5f0fc"/>
<text class="leg" transform="translate(511,764.7) scale(0.988,1)">Current Inflation</text>
<circle cx="641.5" cy="760" r="6.2" fill="#70d49e"/>
<text class="leg" transform="translate(654.5,764.7) scale(0.988,1)">Previous Inflation</text>
</svg>
</body></html>
